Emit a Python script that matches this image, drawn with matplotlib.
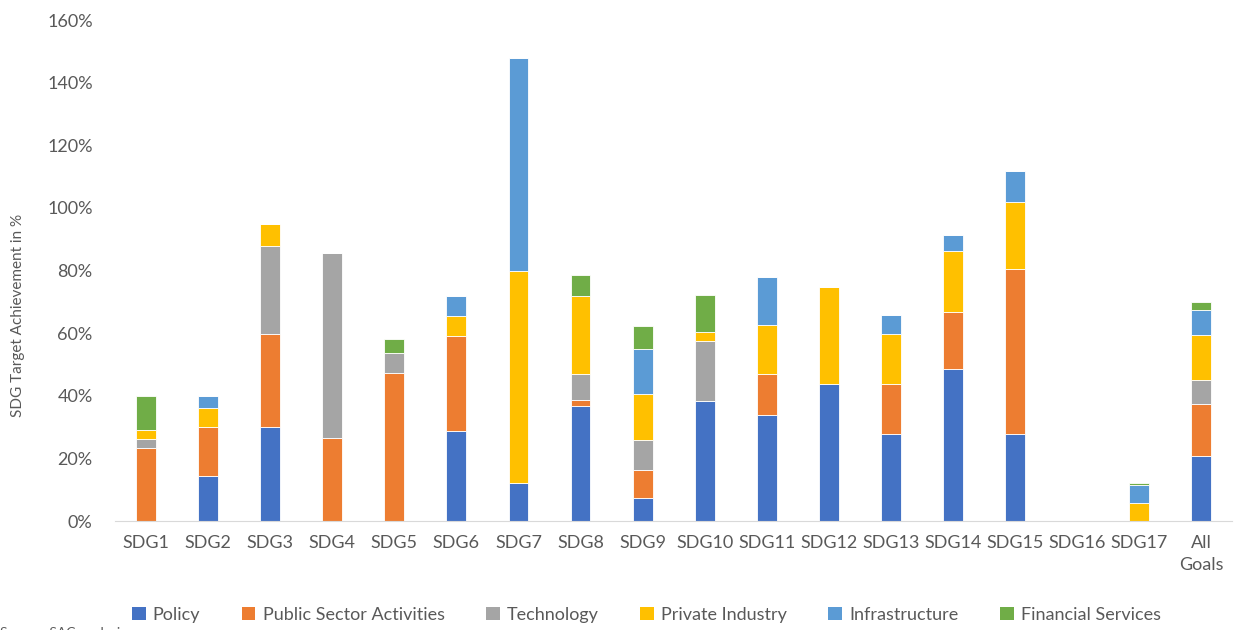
import numpy as np
import matplotlib.pyplot as plt
from matplotlib.patches import Patch
from matplotlib.ticker import PercentFormatter

plt.rcParams["font.family"] = ["Lato", "DejaVu Sans"]

categories = ["SDG1", "SDG2", "SDG3", "SDG4", "SDG5", "SDG6", "SDG7", "SDG8", "SDG9",
              "SDG10", "SDG11", "SDG12", "SDG13", "SDG14", "SDG15", "SDG16", "SDG17",
              "All\nGoals"]

# values in % per category
policy = [0, 14.3, 29.9, 0, 0, 28.6, 12.0, 36.7, 7.5, 38.2, 34.0, 43.9, 27.9, 48.7, 27.9, 0, 0, 20.7]
public_sector = [23.3, 15.6, 29.7, 26.4, 47.2, 30.6, 0, 1.8, 8.7, 0, 12.9, 0, 16.0, 18.2, 52.5, 0, 0, 16.7]
technology = [2.9, 0, 28.3, 59.1, 6.6, 0, 0, 8.4, 9.8, 19.2, 0, 0, 0, 0, 0, 0, 0, 7.5]
private_industry = [2.9, 6.2, 6.9, 0, 0, 6.3, 67.9, 24.9, 14.5, 3.1, 15.8, 30.7, 15.9, 19.4, 21.5, 0, 5.9, 14.4]
infrastructure = [0, 3.7, 0, 0, 0, 6.4, 68.1, 0, 14.3, 0, 15.4, 0, 5.9, 5.0, 10.0, 0, 5.7, 8.0]
financial = [10.7, 0, 0, 0, 4.3, 0, 0, 6.7, 7.5, 11.7, 0, 0, 0, 0, 0, 0, 0.4, 2.6]

series = [
    ("Policy", policy, "#4472C4"),
    ("Public Sector Activities", public_sector, "#ED7D31"),
    ("Technology", technology, "#A5A5A5"),
    ("Private Industry", private_industry, "#FFC000"),
    ("Infrastructure", infrastructure, "#5B9BD5"),
    ("Financial Services", financial, "#70AD47"),
]

text_color = "#595959"

fig = plt.figure(figsize=(12.36, 6.3), dpi=100)
ax = fig.add_axes([0.093, 0.173, 0.904, 0.795])

x = np.arange(len(categories))
bottom = np.zeros(len(categories))
handles = []
for name, vals, color in series:
    vals = np.array(vals)
    ax.bar(x, vals, 0.32, bottom=bottom, color=color, edgecolor="white", linewidth=0.6)
    bottom += vals
    handles.append(Patch(facecolor=color, label=name))

ax.set_xlim(-0.5, len(categories) - 0.5)
ax.set_ylim(0, 160)
ax.set_yticks(np.arange(0, 161, 20))
ax.yaxis.set_major_formatter(PercentFormatter(decimals=0))
ax.set_xticks(x)
ax.set_xticklabels(categories, linespacing=1.5, va="top")

for s in ["top", "right", "left"]:
    ax.spines[s].set_visible(False)
ax.spines["bottom"].set_color("#D9D9D9")
ax.tick_params(axis="both", length=0, labelsize=13, colors=text_color)
ax.tick_params(axis="x", pad=10)
ax.tick_params(axis="y", pad=16)

fig.text(0.0145, 0.5, "SDG Target Achievement in %", rotation=90, ha="center", va="center",
         fontsize=11, color=text_color)

fig.legend(handles=handles, loc="center", bbox_to_anchor=(0.523, 0.024), ncol=6,
           frameon=False, fontsize=13, handlelength=0.75, handleheight=0.75,
           handletextpad=0.4, columnspacing=2.3, labelcolor=text_color)

fig.text(0.0, -0.004, "Source: SAC analysis", fontsize=10, color=text_color, va="center")

fig.savefig("out.png", dpi=100)
